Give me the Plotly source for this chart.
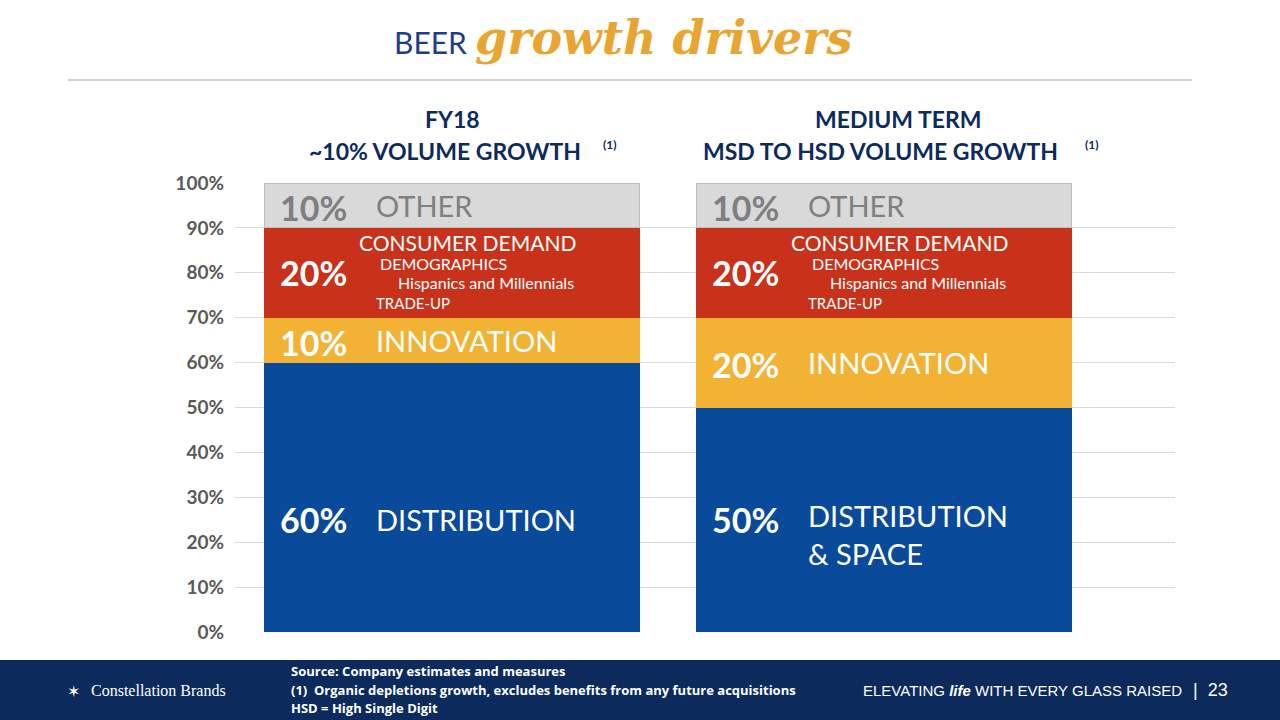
import plotly.graph_objects as go

scenarios = ["FY18", "MEDIUM TERM"]
distribution = [0.60, 0.50]
innovation = [0.10, 0.20]
consumer = [0.20, 0.20]
other = [0.10, 0.10]
yticks = [0, .1, .2, .3, .4, .5, .6, .7, .8, .9, 1.0]
yticklabels = [f"{int(v*100)}%" for v in yticks]

xs = [0, 1]
fig = go.Figure()
series = [("Distribution", distribution, "#0a4a9a"),
          ("Innovation", innovation, "#f2b234"),
          ("Consumer demand", consumer, "#c8321a"),
          ("Other", other, "#d9d9d9")]
for name, vals, col in series:
    fig.add_trace(go.Bar(x=xs, y=vals, name=name, width=0.868, marker=dict(color=col, line=dict(width=1, color="#bfbfbf" if name == "Other" else col)), showlegend=False, hoverinfo="skip"))

fig.update_layout(barmode="stack", width=1280, height=720, plot_bgcolor="white", paper_bgcolor="white",
                  margin=dict(l=235, r=105, t=183, b=88),
                  xaxis=dict(range=[-0.502, 1.674], visible=False),
                  yaxis=dict(range=[0, 1.0], tickvals=yticks, ticktext=[f"<b>{t}</b>" for t in yticklabels], showgrid=True, gridcolor="#d9d9d9",
                             tickfont=dict(family="Lato", size=19, color="#595959"), ticks="", zeroline=False, ticklabelstandoff=10))

font = "Lato"
def ann(x, y, text, size, color, xanchor="left", bold=False):
    fig.add_annotation(x=x, y=y, xref="x", yref="y", text=f"<b>{text}</b>" if bold else text,
                       showarrow=False, xanchor=xanchor, yanchor="middle", borderpad=0,
                       font=dict(family=font, size=size, color=color))

for i, (pO, pC, pI, pD) in enumerate(zip(other, consumer, innovation, distribution)):
    x0 = xs[i] - 0.40
    xt = xs[i] - 0.178
    base = pD + pI + pC
    ann(x0, base + pO / 2 - 0.005, f"{int(pO*100)}%", 34, "#7f7f7f", bold=True)
    ann(xt, base + pO / 2, "OTHER", 29, "#7f7f7f")
    ann(x0, pD + pI + pC / 2, f"{int(pC*100)}%", 34, "white", bold=True)
    ann(xt - 0.04, base - 0.033, "CONSUMER DEMAND", 21, "white")
    ann(xt + 0.01, base - 0.08, "DEMOGRAPHICS", 16, "white")
    ann(xt + 0.05, base - 0.122, "Hispanics and Millennials", 16, "white")
    ann(xt, base - 0.168, "TRADE-UP", 15, "white")
    ann(x0, pD + pI / 2 - 0.005, f"{int(pI*100)}%", 34, "white", bold=True)
    ann(xt, pD + pI / 2, "INNOVATION", 29, "white")
    ann(x0, 0.25, f"{int(pD*100)}%", 34, "white", bold=True)
ann(xs[0] - 0.178, 0.25, "DISTRIBUTION", 29, "white")
ann(xs[1] - 0.178, 0.26, "DISTRIBUTION", 29, "white")
ann(xs[1] - 0.178, 0.175, "& SPACE", 29, "white")

def abs_ann(px, py, text, size, color, xanchor="center", family="Lato"):
    x = (px - 235) / 940
    y = (632 - py) / 449
    fig.add_annotation(x=x, y=y, xref="paper", yref="paper", text=text, showarrow=False, xanchor=xanchor,
                       yanchor="middle", borderpad=0, font=dict(family=family, size=size, color=color))

navy = "#0c2a5b"
abs_ann(452, 119, "<b>FY18</b>", 23, navy)
abs_ann(445, 151, "<b>~10% VOLUME GROWTH</b>", 23, navy)
abs_ann(610, 144, "<b>(1)</b>", 12, navy)
abs_ann(898, 119, "<b>MEDIUM TERM</b>", 23, navy)
abs_ann(880, 151, "<b>MSD TO HSD VOLUME GROWTH</b>", 23, navy)
abs_ann(1092, 144, "<b>(1)</b>", 12, navy)
abs_ann(468, 42, "BEER", 30, "#1f3d8a", xanchor="right")
abs_ann(474, 38, "<b><i>growth drivers</i></b>", 46, "#e8a531", xanchor="left", family="DejaVu Serif")

def px2(x, y):
    return (x - 235) / 940, (632 - y) / 449
x0, y0 = px2(68, 80); x1, _ = px2(1192, 80)
fig.add_shape(type="line", xref="paper", yref="paper", x0=x0, x1=x1, y0=y0, y1=y0, line=dict(color="#a6a6a6", width=1))
bx0, by0 = px2(0, 720); bx1, by1 = px2(1280, 660)
fig.add_shape(type="rect", xref="paper", yref="paper", x0=bx0, x1=bx1, y0=by0, y1=by1, fillcolor="#0c2a5b", line=dict(width=0), layer="below")

abs_ann(290, 671, "<b>Source: Company estimates and measures</b>", 13, "white", xanchor="left", family="Open Sans")
abs_ann(290, 690, "<b>(1)  Organic depletions growth, excludes benefits from any future acquisitions</b>", 13, "white", xanchor="left", family="Open Sans")
abs_ann(290, 708, "<b>HSD = High Single Digit</b>", 13, "white", xanchor="left", family="Open Sans")
abs_ann(90, 690, "Constellation Brands", 16, "white", xanchor="left", family="Liberation Serif")
abs_ann(66, 690, "✶", 16, "white", xanchor="left")
abs_ann(862, 690, "ELEVATING <i><b>life</b></i> WITH EVERY GLASS RAISED", 15, "white", xanchor="left", family="Liberation Sans")
abs_ann(1192, 690, "|  23", 18, "white", xanchor="left", family="Liberation Sans")

fig.write_html("out.html", config={"displayModeBar": False})
with open("out.html", encoding="utf-8") as f:
    html = f.read()
html = html.replace("<body>", '<body style="margin:0;overflow:hidden">', 1)
with open("out.html", "w", encoding="utf-8") as f:
    f.write(html)
